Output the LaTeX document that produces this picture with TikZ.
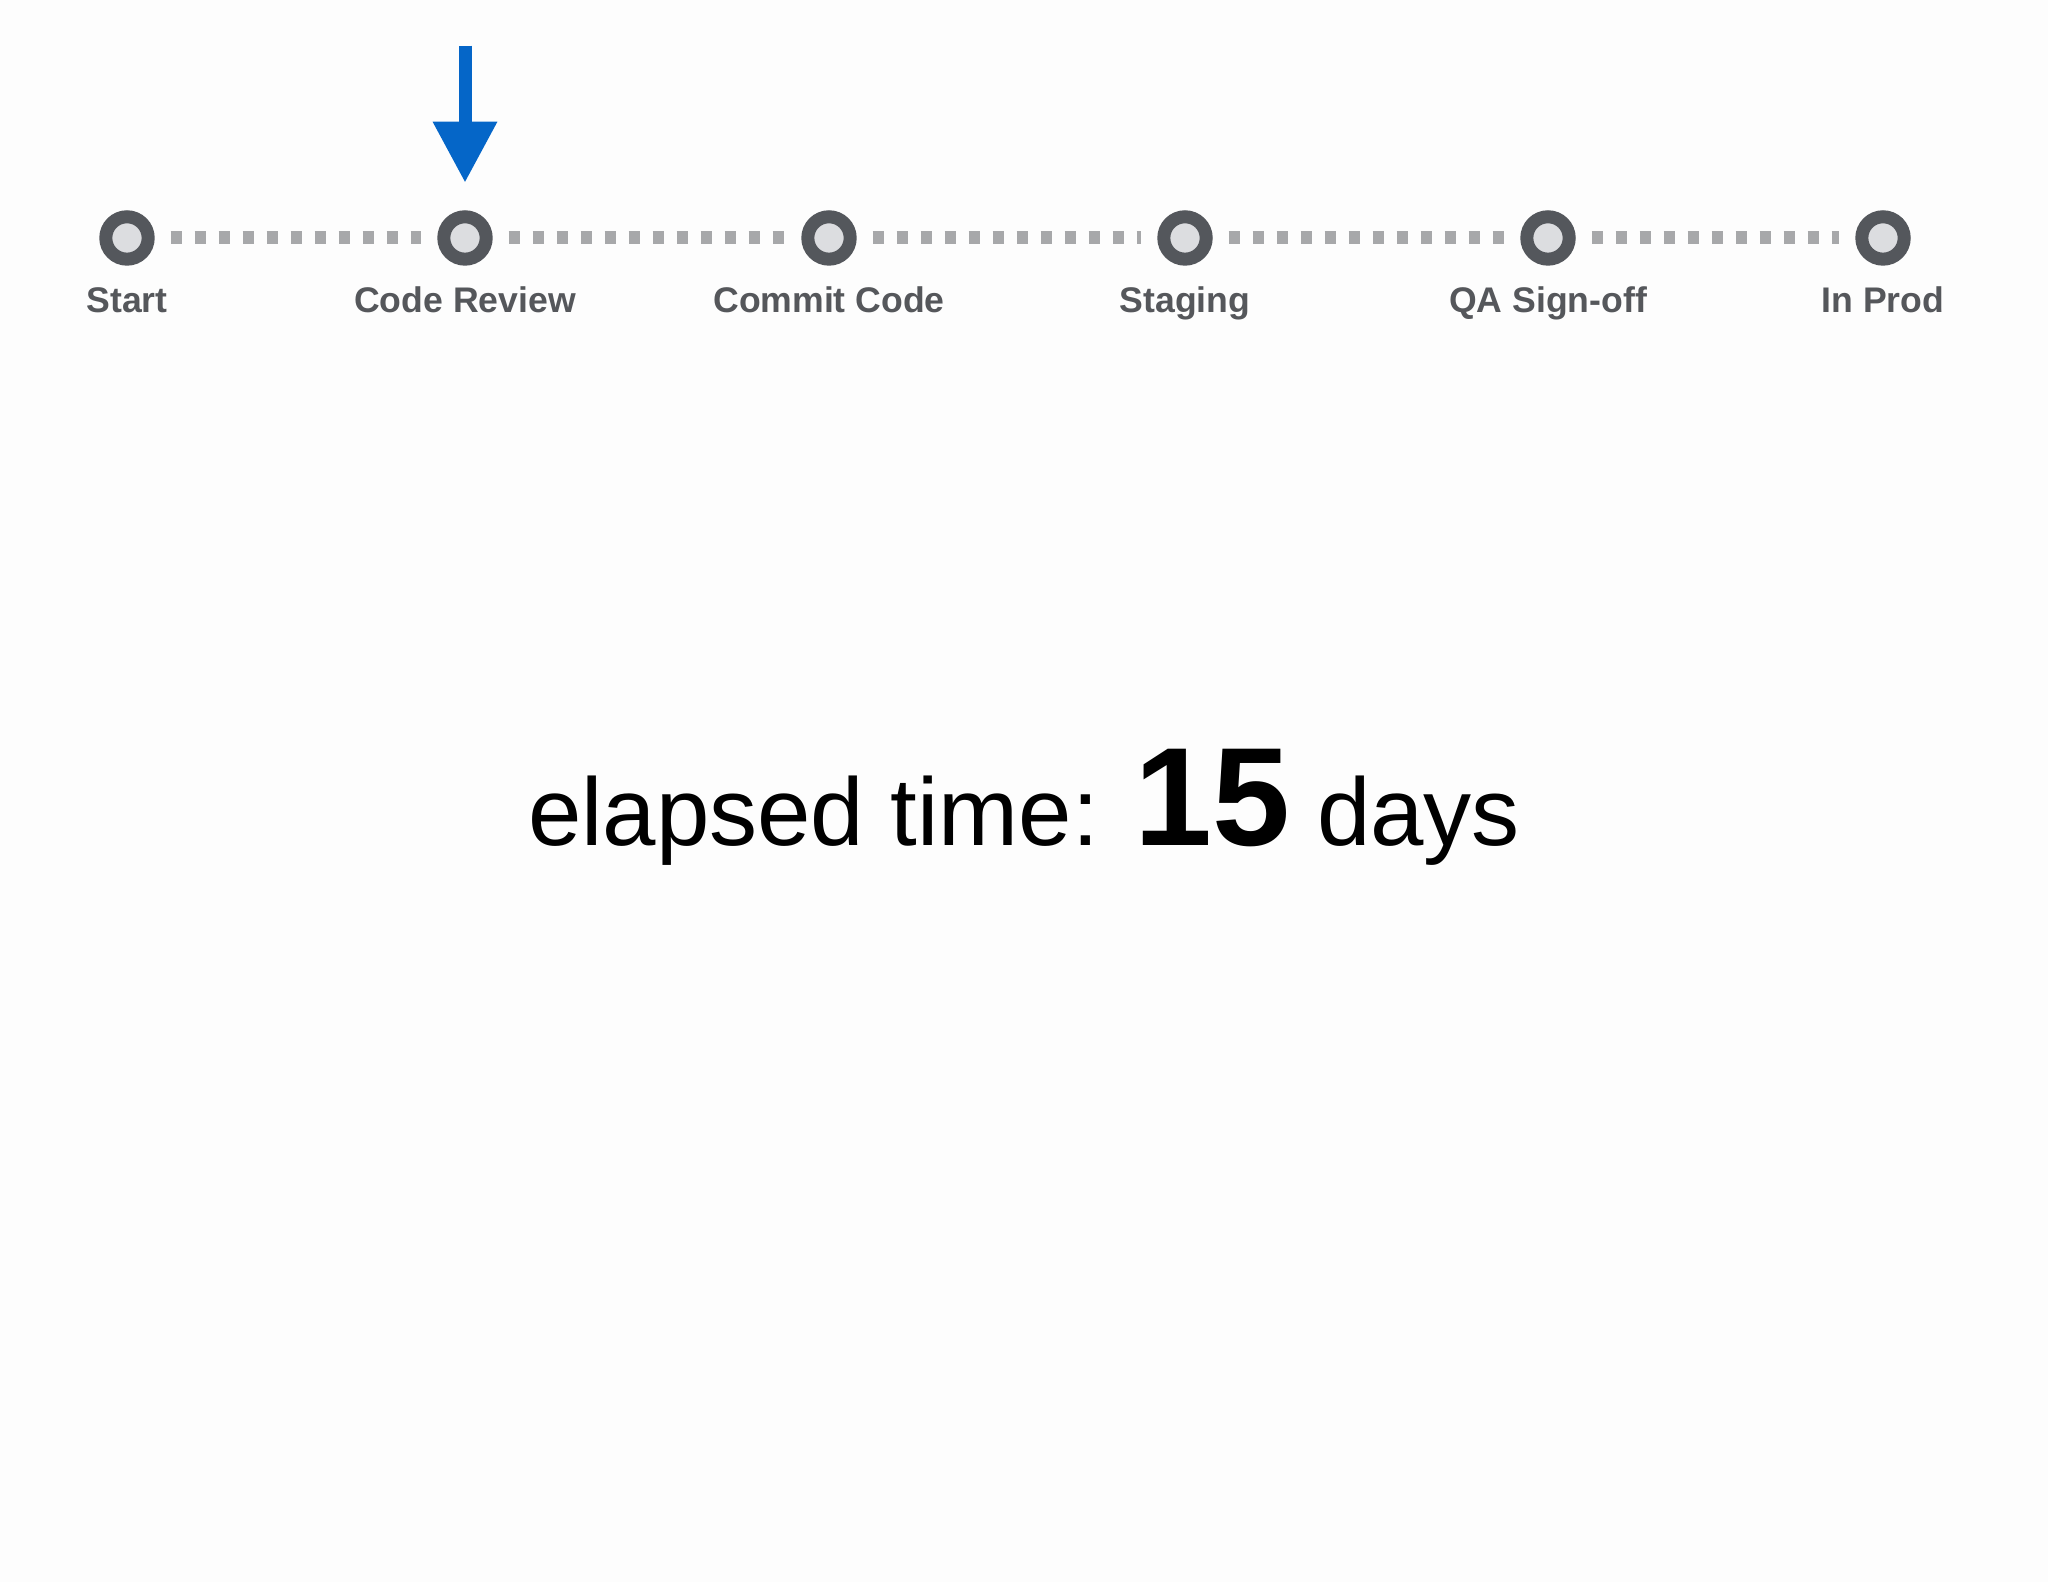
\documentclass[tikz,border=0pt]{standalone}
\usepackage{fontspec}
\setmainfont{Liberation Sans}
\usetikzlibrary{positioning,arrows.meta}

\definecolor{ringgray}{HTML}{54575C}
\definecolor{dotgray}{HTML}{DCDDE0}
\definecolor{trackgray}{HTML}{A7A8AA}
\definecolor{textgray}{HTML}{55575B}
\definecolor{pointerblue}{HTML}{0566C8}
\definecolor{paper}{HTML}{FDFDFD}

\begin{document}
\begin{tikzpicture}[
    x=0.5pt,y=0.5pt,
    station/.style={circle,draw=ringgray,fill=dotgray,line width=6.5pt,inner sep=0pt,minimum size=21.2pt},
    stagetext/.style={text=textgray,font=\bfseries\fontsize{17.8}{20}\selectfont,inner sep=0pt,text height=12.8pt,text depth=3.8pt},
    track/.style={draw=trackgray,line width=6.5pt,dash pattern=on 5.5pt off 6.5pt,shorten <=8pt,shorten >=8pt},
    pointer/.style={draw=pointerblue,line width=6.5pt,-{Triangle[length=30.5pt,width=30.5pt]}}
    ]

    \fill[paper] (0,0) rectangle (2048,1582);
    \useasboundingbox (0,0) rectangle (2048,1582);

    \foreach \x [count=\i from 0] in {127,465,829,1185,1548,1883}
      \node(s\i) [station] at (\x,1344) {};

    \node(l0) [stagetext,below=10.5pt of s0] {Start};
    \node(l1) [stagetext,below=10.5pt of s1] {Code Review};
    \node(l2) [stagetext,below=10.5pt of s2] {Commit Code};
    \node(l3) [stagetext,below=10.5pt of s3] {Staging};
    \node(l4) [stagetext,below=10.5pt of s4] {QA Sign-off};
    \node(l5) [stagetext,below=10.5pt of s5] {In Prod};

    \foreach \x/\y in {0/1,1/2,2/3,3/4,4/5}
      \draw[track] (s\x) to (s\y);

    \coordinate[above=13.8pt of s1] (atip);
    \coordinate[above=68.5pt of atip] (atop);
    \draw[pointer] (atop) to (atip);

    \node(elapsed) [anchor=base,font=\fontsize{48}{56}\selectfont] at (1024,736)
      {elapsed time: {\bfseries\fontsize{70}{80}\selectfont 15} days};

  \end{tikzpicture}
\end{document}
